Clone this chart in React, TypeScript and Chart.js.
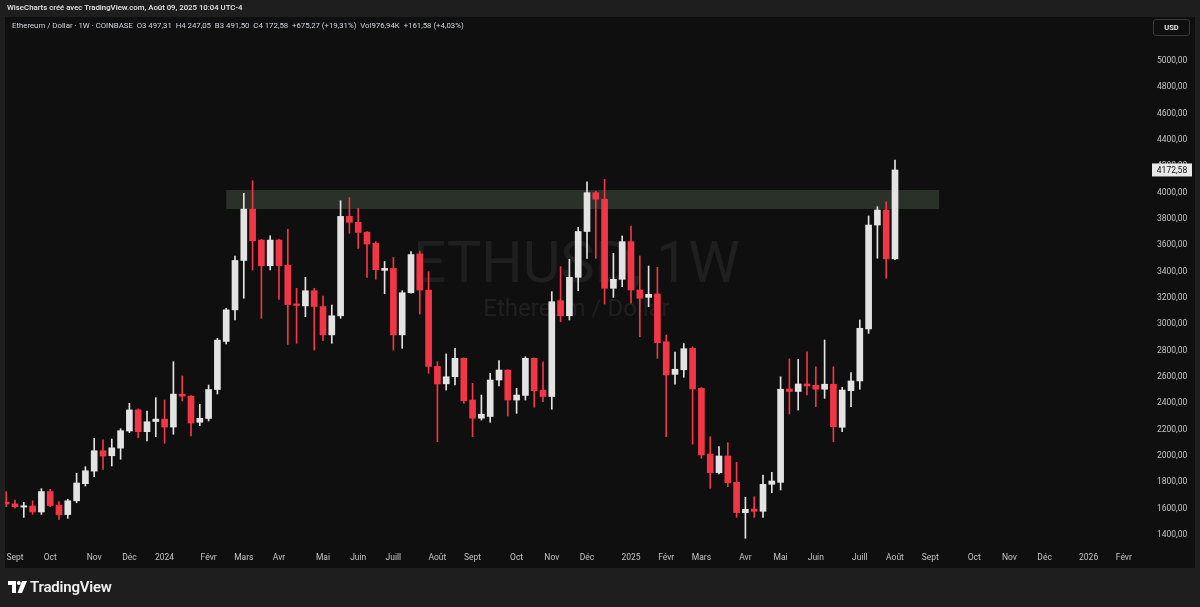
import React, { useEffect, useRef } from "react";
import { Chart, registerables } from "chart.js";
Chart.register(...registerables);

// ---- data (weekly candles, ETH/USD, COINBASE) ----
const firstWeek = "2023-08-28";
const opens = [
  1650, 1636, 1612, 1620, 1575, 1730, 1627, 1555, 1660, 1790,
  1885, 2040, 2002, 2060, 2190, 2350, 2185, 2262, 2280, 2220,
  2470, 2455, 2256, 2285, 2505, 2870, 3110, 3485, 3875, 3640,
  3445, 3640, 3450, 3155, 3140, 3255, 3135, 2920, 3065, 3820,
  3775, 3700, 3615, 3410, 3425, 2920, 3240, 3535, 3260, 2680,
  2548, 2602, 2742, 2425, 2287, 2300, 2577, 2653, 2425, 2460,
  2742, 2500, 2452, 3180, 3065, 3357, 3705, 4000, 3950, 3274,
  3342, 3628, 3261, 3205, 3230, 2868, 2620, 2655, 2818, 2514,
  2015, 1873, 2000, 1800, 1570, 1597, 1580, 1785, 1800, 2509,
  2490, 2547, 2537, 2507, 2545, 2218, 2496, 2570, 2965, 3754,
  3868, 3497.31,
];
const highs = [
  1729, 1665, 1648, 1660, 1752, 1747, 1653, 1671, 1869, 1919,
  2134, 2122, 2129, 2207, 2400, 2358, 2342, 2443, 2425, 2716,
  2608, 2458, 2392, 2539, 2894, 3122, 3519, 3995, 4091, 3645,
  3673, 3648, 3722, 3274, 3357, 3274, 3215, 3147, 3939, 3962,
  3881, 3705, 3628, 3477, 3508, 3255, 3552, 3557, 3400, 2716,
  2775, 2818, 2745, 2552, 2463, 2628, 2724, 2655, 2514, 2754,
  2745, 2716, 3248, 3438, 3494, 3737, 4083, 4010, 4101, 3539,
  3671, 3747, 3519, 3443, 3433, 2919, 2790, 2854, 2830, 2520,
  2147, 2071, 2101, 1952, 1686, 1691, 1856, 1876, 2602, 2738,
  2734, 2792, 2678, 2881, 2678, 2522, 2633, 3033, 3823, 3893,
  3931, 4247.05,
];
const lows = [
  1615, 1603, 1534, 1557, 1557, 1615, 1519, 1527, 1645, 1772,
  1843, 1899, 1924, 1975, 2177, 2140, 2114, 2147, 2096, 2165,
  2418, 2152, 2230, 2266, 2471, 2851, 3033, 3198, 3413, 3046,
  3413, 3190, 2848, 2856, 3058, 2805, 2876, 2856, 3046, 3691,
  3577, 3357, 3342, 3232, 2805, 2818, 3236, 3078, 2628, 2109,
  2501, 2539, 2400, 2147, 2273, 2256, 2532, 2304, 2324, 2425,
  2370, 2412, 2355, 3020, 3033, 3255, 3501, 3501, 3154, 3205,
  3286, 3160, 2906, 3134, 2742, 2147, 2545, 2598, 2090, 1983,
  1755, 1863, 1767, 1534, 1375, 1534, 1534, 1721, 1742, 2320,
  2349, 2463, 2374, 2438, 2109, 2185, 2374, 2507, 2932, 3502,
  3350, 3491.5,
];
const closes = [
  1636, 1615, 1622, 1575, 1730, 1624, 1555, 1660, 1795, 1888,
  2040, 2000, 2062, 2192, 2350, 2185, 2260, 2280, 2220, 2470,
  2455, 2250, 2286, 2505, 2880, 3110, 3485, 3875, 3635, 3445,
  3640, 3445, 3150, 3143, 3255, 3135, 2920, 3065, 3820, 3775,
  3698, 3610, 3415, 3425, 2920, 3240, 3530, 3260, 2680, 2547,
  2602, 2742, 2420, 2287, 2317, 2577, 2653, 2425, 2463, 2742,
  2496, 2452, 3172, 3065, 3357, 3705, 4000, 3950, 3274, 3342,
  3628, 3261, 3198, 3228, 2861, 2615, 2659, 2815, 2509, 2008,
  1873, 2000, 1797, 1570, 1595, 1580, 1785, 1810, 2507, 2490,
  2547, 2532, 2507, 2545, 2223, 2501, 2570, 2970, 3754, 3868,
  3497.31, 4172.58,
];

// time-axis labels (first weekly bar of each month)
const timeTickWeeks = [
  "2023-09-04", "2023-10-02", "2023-11-06", "2023-12-04", "2024-01-01", "2024-02-05",
  "2024-03-04", "2024-04-01", "2024-05-06", "2024-06-03", "2024-07-01", "2024-08-05",
  "2024-09-02", "2024-10-07", "2024-11-04", "2024-12-02", "2025-01-06", "2025-02-03",
  "2025-03-03", "2025-04-07", "2025-05-05", "2025-06-02", "2025-07-07", "2025-08-04",
  "2025-09-01", "2025-10-06", "2025-11-03", "2025-12-01", "2026-01-05", "2026-02-02",
];
const timeTickLabels = [
  "Sept", "Oct", "Nov", "Déc", "2024", "Févr",
  "Mars", "Avr", "Mai", "Juin", "Juill", "Août",
  "Sept", "Oct", "Nov", "Déc", "2025", "Févr",
  "Mars", "Avr", "Mai", "Juin", "Juill", "Août",
  "Sept", "Oct", "Nov", "Déc", "2026", "Févr",
];
const priceTicks = [1400, 1600, 1800, 2000, 2200, 2400, 2600, 2800, 3000, 3200, 3400, 3600, 3800, 4000, 4200, 4400, 4600, 4800, 5000];

// resistance zone
const zoneLow = 3876;
const zoneHigh = 4020;
const zoneFromWeek = "2024-02-19";
const zoneToWeek = "2025-09-08";

const UP = "#e3e3e3";
const DOWN = "#f23645";
const FONT = "Roboto, 'Noto Sans', sans-serif";

const WEEK_MS = 7 * 86400000;
const weekIndex = (d: string) => Math.round((Date.parse(d) - Date.parse(firstWeek)) / WEEK_MS);

const fmt = (v: number) => Number(v).toFixed(2).replace(".", ",");

export default function App() {
  const ref = useRef<HTMLCanvasElement | null>(null);

  useEffect(() => {
    const canvas = ref.current;
    if (!canvas) return;
    const colors = opens.map((o, k) => (closes[k] >= o ? UP : DOWN));
    const bodies = opens.map((o, k) => ({ x: k, y: [o, closes[k]] }));
    const wicks = highs.map((h, k) => ({ x: k, y: [lows[k], h] }));
    const tickIdx = timeTickWeeks.map(weekIndex);
    const labelByIdx = new Map<number, string>();
    tickIdx.forEach((k, i) => labelByIdx.set(k, timeTickLabels[i]));
    const lastClose = closes[closes.length - 1];

    const bgPlugin = {
      id: "bg",
      beforeDraw(chart: any) {
        const { ctx, width, height } = chart;
        ctx.save();
        ctx.fillStyle = "#1e1e1e";
        ctx.fillRect(0, 0, width, height);
        ctx.fillStyle = "#0f0f0f";
        ctx.fillRect(5, 17, 1190, 551);
        ctx.restore();
      },
    };

    const decorPlugin = {
      id: "decor",
      beforeDatasetsDraw(chart: any) {
        const { ctx, chartArea, scales } = chart;
        const x = scales.x, y = scales.y;
        ctx.save();
        ctx.beginPath();
        ctx.rect(chartArea.left, chartArea.top, chartArea.right - chartArea.left, chartArea.bottom - chartArea.top);
        ctx.clip();
        // watermark
        const cx = (chartArea.left + chartArea.right) / 2;
        const cy = (chartArea.top + chartArea.bottom) / 2;
        ctx.fillStyle = "rgba(255,255,255,0.065)";
        ctx.textAlign = "center";
        ctx.textBaseline = "middle";
        ctx.font = `58px ${FONT}`;
        ctx.fillText("ETHUSD, 1W", cx, cy - 15);
        ctx.font = `24px ${FONT}`;
        ctx.fillText("Ethereum / Dollar", cx, cy + 28);
        // zone
        const x0 = x.getPixelForValue(weekIndex(zoneFromWeek));
        const x1 = x.getPixelForValue(weekIndex(zoneToWeek));
        const y0 = y.getPixelForValue(zoneHigh);
        const y1 = y.getPixelForValue(zoneLow);
        ctx.fillStyle = "#2a3129";
        ctx.fillRect(x0, y0, x1 - x0, y1 - y0);
        ctx.restore();
      },
      afterDraw(chart: any) {
        const { ctx, chartArea, scales } = chart;
        const py = scales.y.getPixelForValue(lastClose);
        ctx.save();
        ctx.fillStyle = "#e8e8e8";
        ctx.fillRect(chartArea.right + 4, py - 6.5, 40, 13);
        ctx.fillStyle = "#131313";
        ctx.font = `8.5px ${FONT}`;
        ctx.textAlign = "center";
        ctx.textBaseline = "middle";
        ctx.fillText(fmt(lastClose), chartArea.right + 24, py + 0.5);
        ctx.restore();
      },
    };

    const chart = new Chart(canvas, {
      type: "bar",
      data: {
        datasets: [
          {
            label: "body",
            data: bodies as any,
            backgroundColor: colors,
            barThickness: 6,
            grouped: false,
            order: 0,
            minBarLength: 1,
            borderWidth: 0,
          } as any,
          {
            label: "wick",
            data: wicks as any,
            backgroundColor: colors,
            barThickness: 1,
            grouped: false,
            order: 1,
            borderWidth: 0,
          } as any,
        ],
      },
      options: {
        animation: false,
        responsive: false,
        maintainAspectRatio: false,
        devicePixelRatio: 1,
        layout: { padding: { left: 5, top: 17, right: 0, bottom: 39 } },
        plugins: { legend: { display: false }, tooltip: { enabled: false }, title: { display: false } },
        scales: {
          x: {
            type: "linear",
            min: -0.136,
            max: 129.75,
            offset: false,
            grid: { display: false, drawTicks: false },
            border: { display: false },
            ticks: {
              autoSkip: false,
              maxRotation: 0,
              padding: 6,
              color: "#c4c4c4",
              font: { size: 8.5, family: FONT },
              callback: (v: any) => labelByIdx.get(Number(v)) ?? "",
            },
            afterBuildTicks: (s: any) => {
              s.ticks = tickIdx.map((k) => ({ value: k }));
            },
            afterFit: (s: any) => {
              s.height = 21;
              s.paddingLeft = 0;
              s.paddingRight = 0;
            },
          },
          y: {
            type: "linear",
            position: "right",
            min: 1308.9,
            max: 5334.2,
            grid: { display: false, drawTicks: false },
            border: { display: false },
            ticks: {
              padding: 9,
              color: "#c4c4c4",
              font: { size: 8.5, family: FONT },
              callback: (v: any) => fmt(Number(v)),
            },
            afterBuildTicks: (s: any) => {
              s.ticks = priceTicks.map((v) => ({ value: v }));
            },
            afterFit: (s: any) => {
              s.width = 52;
              s.paddingTop = 0;
              s.paddingBottom = 0;
            },
          },
        },
      } as any,
      plugins: [bgPlugin, decorPlugin],
    });
    return () => chart.destroy();
  }, []);

  const txt: React.CSSProperties = { position: "absolute", fontFamily: FONT, whiteSpace: "nowrap" };
  return (
    <div style={{ position: "fixed", left: 0, top: 0, width: 1200, height: 607, overflow: "hidden", background: "#1e1e1e" }}>
      <canvas ref={ref} width={1200} height={607} style={{ position: "absolute", left: 0, top: 0, width: 1200, height: 607 }} />
      <div style={{ ...txt, left: 7, top: 3, fontSize: 7.8, color: "#e6e6e6", fontWeight: 500 }}>
        WiseCharts créé avec TradingView.com, Août 09, 2025 10:04 UTC-4
      </div>
      <div style={{ ...txt, left: 12, top: 21, fontSize: 7.8, color: "#d1d4dc" }}>
        Ethereum / Dollar · 1W · COINBASE&nbsp;&nbsp;O3 497,31&nbsp;&nbsp;H4 247,05&nbsp;&nbsp;B3 491,50&nbsp;&nbsp;C4 172,58&nbsp;&nbsp;+675,27 (+19,31%)&nbsp;&nbsp;Vol976,94K&nbsp;&nbsp;+161,58 (+4,03%)
      </div>
      <div
        style={{
          ...txt,
          left: 1153,
          top: 19,
          width: 35,
          height: 15,
          border: "1px solid #3a3a3a",
          borderRadius: 3,
          fontSize: 7.5,
          fontWeight: 700,
          color: "#e6e6e6",
          display: "flex",
          alignItems: "center",
          justifyContent: "center",
        }}
      >
        USD
      </div>
      <svg style={{ position: "absolute", left: 8, top: 581 }} width={19} height={12} viewBox="0 0 19 12">
        <path d="M0 0 H8 V12 H4 V4 H0 Z" fill="#ffffff" />
        <circle cx={10.8} cy={2} r={2} fill="#ffffff" />
        <path d="M14 0 H19 L14 12 H9.5 Z" fill="#ffffff" />
      </svg>
      <div style={{ ...txt, left: 30, top: 578, fontSize: 15, fontWeight: 600, color: "#f0f0f0", letterSpacing: -0.2 }}>
        TradingView
      </div>
    </div>
  );
}
